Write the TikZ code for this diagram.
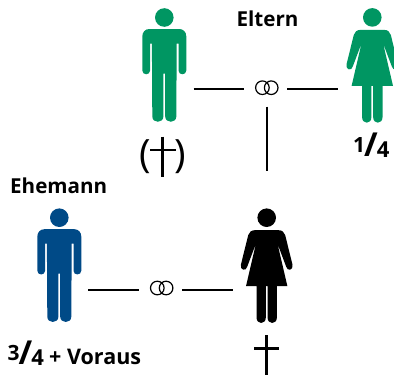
\documentclass[tikz,border=0pt]{standalone}
\usepackage{fontspec}
\setmainfont{Open Sans}
\definecolor{figgreen}{HTML}{009662}
\definecolor{figblue}{HTML}{004A87}
\newcommand{\fracmark}[2]{\raisebox{4pt}{\fontsize{21}{21}\selectfont #1}\kern-1pt{\fontsize{33}{33}\selectfont /}\kern-1pt\raisebox{-1.5pt}{\fontsize{22}{22}\selectfont #2}}
\tikzset{
  x=1pt,y=-1pt,
  lbl/.style={font=\bfseries\fontsize{20.6}{22}\selectfont,inner sep=0pt,text=black},
  conn/.style={line width=2.2pt,black},
  cross/.style={line width=2.5pt,black},
  ring/.style={line width=1.2pt,black},
  paren/.style={font=\fontsize{39}{40}\selectfont,inner sep=0pt},
  pics/manfig/.style={code={
    \fill[#1] (0,0) circle[radius=9.3];
    \fill[#1] (-15,11.5) -- (15,11.5) .. controls (19,11.5) and (22,14.5) .. (22,19)
      -- (22,53) .. controls (22,58) and (14.2,58) .. (14.2,53)
      -- (14.2,26) -- (12.4,26) -- (12,99) .. controls (12,106) and (1,106) .. (0.9,99)
      -- (0.9,56) -- (-0.9,56) -- (-0.9,99) .. controls (-1,106) and (-12,106) .. (-12,99)
      -- (-12.4,26) -- (-14.2,26) -- (-14.2,53) .. controls (-14.2,58) and (-22,58) .. (-22,53)
      -- (-22,19) .. controls (-22,14.5) and (-19,11.5) .. (-15,11.5) -- cycle;
  }},
  pics/womanfig/.style={code={
    \fill[#1] (0,0) circle[radius=9.3];
    \fill[#1] (-12,12.5) -- (12,12.5) .. controls (15.5,12.5) and (17.5,14.5) .. (18.5,17.5)
      -- (25.8,47) .. controls (27,52.5) and (20.5,54) .. (19.5,49)
      -- (10.8,26) -- (20.7,68.5) -- (10.2,68.5)
      -- (10.2,100) .. controls (10,107) and (1,107) .. (0.9,100)
      -- (0.9,68.5) -- (-0.9,68.5)
      -- (-0.9,100) .. controls (-1,107) and (-10,107) .. (-10.2,100)
      -- (-10.2,68.5) -- (-20.7,68.5) -- (-10.8,26)
      -- (-19.5,49) .. controls (-20.5,54) and (-27,52.5) .. (-25.8,47)
      -- (-18.5,17.5) .. controls (-17.5,14.5) and (-15.5,12.5) .. (-12,12.5) -- cycle;
  }}
}
\begin{document}
\begin{tikzpicture}
\useasboundingbox (0,0) rectangle (394,376);
% figures
\pic at (164.3,17.5) {manfig=figgreen};
\pic at (372.3,17.4) {womanfig=figgreen};
\pic at (59.3,217.7) {manfig=figblue};
\pic at (266.7,217.7) {womanfig=black};
% labels
\node[lbl] (eltern) at (267.5,19) {Eltern};
\node[lbl] (ehemann) at (58.7,186) {Ehemann};
\node[lbl,anchor=west] (quarter) at (353,145) {\fracmark{1}{4}};
\node[lbl,anchor=west] (voraus) at (7.5,353) {\fracmark{3}{4} {\fontsize{21.5}{22}\selectfont + Voraus}};
\node[paren] (parentleft) at (145.5,157) {(};
\node[paren] (parentright) at (180,157) {)};
% rings
\draw[ring] (262.4,87.7) circle[radius=6.8] (271.2,87.7) circle[radius=6.8];
\draw[ring] (157.3,288) circle[radius=6.8] (166.1,288) circle[radius=6.8];
% connectors
\coordinate (a1) at (193.7,89.3); \coordinate (a2) at (244,89.3);
\coordinate (b1) at (287.3,89.3); \coordinate (b2) at (337.7,89.3);
\coordinate (c1) at (267,106.7);  \coordinate (c2) at (267,170.7);
\coordinate (d1) at (88.3,290);   \coordinate (d2) at (139,290);
\coordinate (e1) at (182.3,290);  \coordinate (e2) at (232.7,290);
\draw[conn] (a1) -- (a2);
\draw[conn] (b1) -- (b2);
\draw[conn] (c1) -- (c2);
\draw[conn] (d1) -- (d2);
\draw[conn] (e1) -- (e2);
% crosses
\draw[cross] (162.7,136.7) -- (162.7,176.7) (150,150) -- (175.7,150);
\draw[cross] (266.7,335) -- (266.7,375) (254,348.7) -- (279.3,348.7);
\end{tikzpicture}
\end{document}
